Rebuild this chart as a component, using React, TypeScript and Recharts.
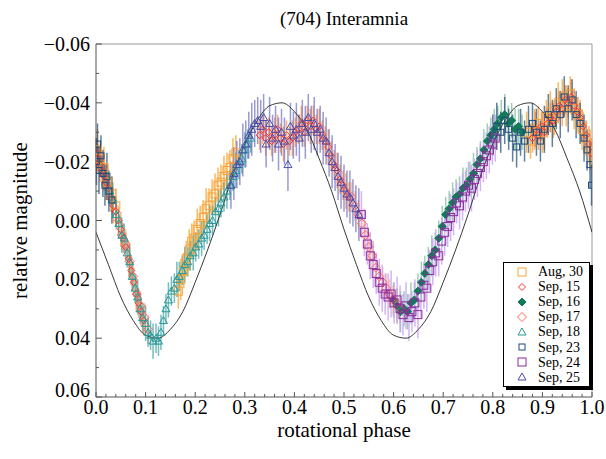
import React from "react";
import {
  ComposedChart,
  ErrorBar,
  Line,
  ReferenceLine,
  Scatter,
  XAxis,
  YAxis,
} from "recharts";

const FONT = "'Liberation Serif', 'Times New Roman', serif";

// rows are [phase, relative magnitude, error]
const aug30 = [
  [0.003, -0.024, 0.007], [0.009, -0.021, 0.006], [0.016, -0.018, 0.007], [0.024, -0.013, 0.006],
  [0.032, -0.009, 0.006], [0.040, -0.005, 0.006],
  [0.166, 0.024, 0.006], [0.171, 0.020, 0.007], [0.177, 0.017, 0.006], [0.182, 0.013, 0.006],
  [0.188, 0.010, 0.007], [0.193, 0.007, 0.006], [0.198, 0.006, 0.006], [0.204, 0.003, 0.007],
  [0.210, 0.001, 0.006], [0.216, -0.001, 0.006], [0.222, -0.004, 0.007], [0.228, -0.005, 0.006],
  [0.234, -0.008, 0.006], [0.240, -0.009, 0.007], [0.246, -0.012, 0.006], [0.252, -0.013, 0.006],
  [0.258, -0.015, 0.007], [0.264, -0.017, 0.006], [0.270, -0.018, 0.006], [0.276, -0.021, 0.007],
  [0.282, -0.023, 0.006],
  [0.868, -0.030, 0.007], [0.876, -0.027, 0.006], [0.884, -0.031, 0.007], [0.892, -0.033, 0.006],
  [0.900, -0.030, 0.007], [0.908, -0.035, 0.006], [0.916, -0.037, 0.007], [0.924, -0.035, 0.006],
  [0.932, -0.040, 0.007], [0.940, -0.042, 0.006], [0.948, -0.039, 0.007], [0.956, -0.043, 0.006],
  [0.964, -0.038, 0.007], [0.972, -0.036, 0.006], [0.980, -0.031, 0.007], [0.988, -0.028, 0.006],
  [0.996, -0.024, 0.007],
];

const sep15 = [
  [0.000, -0.023, 0.005], [0.004, -0.021, 0.005], [0.008, -0.019, 0.006], [0.012, -0.017, 0.005],
  [0.016, -0.015, 0.005], [0.020, -0.013, 0.006], [0.025, -0.011, 0.005], [0.030, -0.008, 0.005],
  [0.035, -0.005, 0.006], [0.040, -0.003, 0.005], [0.045, 0.000, 0.005], [0.050, 0.003, 0.006],
  [0.055, 0.006, 0.005], [0.060, 0.009, 0.005], [0.066, 0.013, 0.006], [0.071, 0.017, 0.005],
  [0.076, 0.021, 0.005], [0.081, 0.025, 0.006], [0.086, 0.028, 0.005], [0.091, 0.031, 0.005],
  [0.096, 0.034, 0.005],
  [0.330, -0.029, 0.005], [0.336, -0.031, 0.005], [0.342, -0.028, 0.006], [0.348, -0.030, 0.005],
  [0.354, -0.027, 0.005], [0.360, -0.029, 0.006], [0.366, -0.031, 0.005], [0.372, -0.028, 0.005],
  [0.378, -0.026, 0.006], [0.384, -0.029, 0.005], [0.390, -0.027, 0.005], [0.396, -0.028, 0.006],
  [0.402, -0.030, 0.005], [0.408, -0.031, 0.005], [0.414, -0.033, 0.006], [0.420, -0.030, 0.005],
  [0.426, -0.034, 0.005], [0.432, -0.032, 0.006], [0.438, -0.034, 0.005], [0.444, -0.031, 0.005],
  [0.450, -0.032, 0.006], [0.456, -0.029, 0.005], [0.462, -0.027, 0.005], [0.468, -0.025, 0.006],
  [0.474, -0.022, 0.005], [0.480, -0.019, 0.005], [0.486, -0.017, 0.006], [0.492, -0.014, 0.005],
  [0.498, -0.012, 0.005], [0.504, -0.010, 0.006], [0.510, -0.008, 0.005],
  [0.880, -0.028, 0.005], [0.886, -0.031, 0.006], [0.892, -0.029, 0.005], [0.898, -0.032, 0.005],
  [0.904, -0.030, 0.006], [0.910, -0.033, 0.005], [0.916, -0.035, 0.005], [0.922, -0.034, 0.006],
  [0.928, -0.037, 0.005], [0.934, -0.039, 0.005], [0.940, -0.038, 0.006], [0.946, -0.041, 0.005],
  [0.952, -0.040, 0.005], [0.958, -0.042, 0.006], [0.964, -0.039, 0.005], [0.970, -0.037, 0.005],
  [0.976, -0.035, 0.006], [0.982, -0.032, 0.005], [0.988, -0.029, 0.005], [0.994, -0.026, 0.006],
  [0.999, -0.023, 0.005],
];

const sep16 = [
  [0.600, 0.027, 0.006], [0.607, 0.029, 0.006], [0.614, 0.031, 0.007], [0.621, 0.030, 0.006],
  [0.628, 0.031, 0.006], [0.635, 0.028, 0.007], [0.642, 0.027, 0.006], [0.649, 0.024, 0.006],
  [0.656, 0.021, 0.007], [0.663, 0.018, 0.006], [0.670, 0.015, 0.006], [0.677, 0.012, 0.007],
  [0.684, 0.010, 0.006], [0.691, 0.006, 0.006], [0.698, 0.002, 0.007], [0.705, -0.002, 0.006],
  [0.712, -0.004, 0.006], [0.719, -0.006, 0.007], [0.726, -0.008, 0.006], [0.733, -0.009, 0.006],
  [0.740, -0.011, 0.007], [0.747, -0.012, 0.006], [0.754, -0.014, 0.006], [0.761, -0.016, 0.007],
  [0.768, -0.019, 0.006], [0.775, -0.021, 0.006], [0.782, -0.024, 0.007], [0.789, -0.027, 0.006],
  [0.796, -0.029, 0.006], [0.803, -0.031, 0.007], [0.810, -0.033, 0.006], [0.817, -0.035, 0.006],
  [0.824, -0.036, 0.007], [0.831, -0.033, 0.006], [0.838, -0.034, 0.006], [0.845, -0.031, 0.007],
  [0.852, -0.032, 0.006], [0.859, -0.030, 0.006],
];

const sep17 = [
  [0.052, 0.005, 0.005], [0.060, 0.008, 0.005], [0.068, 0.014, 0.005], [0.075, 0.019, 0.005],
  [0.082, 0.025, 0.005], [0.090, 0.029, 0.005], [0.098, 0.033, 0.005], [0.105, 0.037, 0.005],
  [0.515, -0.008, 0.005], [0.522, -0.005, 0.005], [0.529, -0.002, 0.005], [0.536, 0.001, 0.005],
  [0.543, 0.005, 0.005], [0.550, 0.009, 0.005], [0.557, 0.012, 0.005], [0.564, 0.016, 0.005],
  [0.571, 0.019, 0.005], [0.578, 0.021, 0.005], [0.585, 0.023, 0.005], [0.592, 0.025, 0.005],
  [0.599, 0.027, 0.005], [0.606, 0.028, 0.005], [0.613, 0.030, 0.005],
];

const sep18 = [
  [0.028, -0.010, 0.005], [0.034, -0.007, 0.006], [0.041, -0.002, 0.005], [0.046, 0.001, 0.005],
  [0.052, 0.005, 0.006], [0.057, 0.006, 0.005], [0.063, 0.011, 0.005], [0.068, 0.014, 0.006],
  [0.073, 0.019, 0.005], [0.079, 0.023, 0.005], [0.084, 0.026, 0.006], [0.089, 0.030, 0.005],
  [0.094, 0.033, 0.005], [0.100, 0.035, 0.006], [0.105, 0.038, 0.005], [0.110, 0.039, 0.005],
  [0.115, 0.041, 0.006], [0.121, 0.040, 0.005], [0.126, 0.041, 0.005], [0.131, 0.038, 0.006],
  [0.136, 0.034, 0.005], [0.141, 0.030, 0.005], [0.146, 0.027, 0.006], [0.152, 0.024, 0.005],
  [0.158, 0.023, 0.005], [0.163, 0.020, 0.006], [0.168, 0.019, 0.005], [0.174, 0.017, 0.005],
  [0.179, 0.015, 0.006], [0.185, 0.014, 0.005], [0.190, 0.012, 0.005], [0.196, 0.011, 0.006],
  [0.201, 0.009, 0.005], [0.207, 0.008, 0.005], [0.213, 0.006, 0.006], [0.218, 0.005, 0.005],
  [0.224, 0.003, 0.005], [0.229, 0.001, 0.006], [0.235, 0.000, 0.005], [0.241, -0.003, 0.005],
  [0.247, -0.004, 0.006], [0.252, -0.006, 0.005], [0.258, -0.008, 0.005], [0.264, -0.010, 0.006],
  [0.270, -0.012, 0.005], [0.276, -0.015, 0.005], [0.282, -0.017, 0.006], [0.288, -0.019, 0.005],
  [0.294, -0.021, 0.005], [0.300, -0.024, 0.006], [0.306, -0.026, 0.005], [0.312, -0.028, 0.005],
];

const sep23 = [
  [0.001, -0.020, 0.008], [0.003, -0.026, 0.007], [0.006, -0.017, 0.008], [0.010, -0.022, 0.007],
  [0.014, -0.016, 0.008], [0.018, -0.012, 0.007], [0.022, -0.015, 0.008], [0.026, -0.010, 0.007],
  [0.032, -0.007, 0.008],
  [0.800, -0.029, 0.007], [0.808, -0.032, 0.008], [0.816, -0.030, 0.007], [0.824, -0.034, 0.008],
  [0.832, -0.031, 0.007], [0.840, -0.028, 0.008], [0.848, -0.025, 0.007], [0.856, -0.030, 0.008],
  [0.864, -0.027, 0.007], [0.872, -0.031, 0.008], [0.880, -0.033, 0.007], [0.888, -0.030, 0.008],
  [0.896, -0.027, 0.007], [0.904, -0.031, 0.008], [0.912, -0.036, 0.007], [0.920, -0.033, 0.008],
  [0.928, -0.038, 0.007], [0.936, -0.036, 0.008], [0.944, -0.042, 0.007], [0.952, -0.038, 0.008],
  [0.960, -0.041, 0.007], [0.968, -0.036, 0.008], [0.976, -0.033, 0.007], [0.984, -0.028, 0.008],
  [0.990, -0.024, 0.007], [0.996, -0.019, 0.008], [0.999, -0.012, 0.007],
];

const sep24 = [
  [0.535, -0.002, 0.008], [0.541, 0.004, 0.008], [0.547, 0.008, 0.007], [0.553, 0.012, 0.008],
  [0.559, 0.015, 0.008], [0.565, 0.018, 0.007], [0.571, 0.021, 0.008], [0.577, 0.023, 0.008],
  [0.583, 0.025, 0.007], [0.589, 0.026, 0.008], [0.595, 0.025, 0.008], [0.601, 0.028, 0.007],
  [0.607, 0.027, 0.008], [0.613, 0.030, 0.008], [0.619, 0.032, 0.007], [0.625, 0.029, 0.008],
  [0.631, 0.033, 0.008], [0.637, 0.031, 0.007], [0.643, 0.028, 0.008], [0.649, 0.032, 0.008],
  [0.655, 0.026, 0.007], [0.661, 0.022, 0.008], [0.667, 0.023, 0.008], [0.673, 0.017, 0.007],
  [0.679, 0.014, 0.008], [0.685, 0.011, 0.008], [0.691, 0.012, 0.007], [0.697, 0.007, 0.008],
  [0.703, 0.004, 0.008], [0.709, 0.002, 0.007], [0.715, -0.001, 0.008], [0.721, -0.003, 0.008],
  [0.727, -0.006, 0.007], [0.733, -0.005, 0.008], [0.739, -0.008, 0.008], [0.745, -0.010, 0.007],
  [0.751, -0.012, 0.008], [0.757, -0.011, 0.008], [0.763, -0.014, 0.007], [0.769, -0.016, 0.008],
  [0.775, -0.018, 0.008], [0.781, -0.020, 0.007], [0.787, -0.022, 0.008], [0.793, -0.024, 0.008],
  [0.799, -0.026, 0.007], [0.805, -0.028, 0.008],
];

const sep25 = [
  [0.272, -0.012, 0.008], [0.278, -0.016, 0.009], [0.284, -0.019, 0.008], [0.290, -0.020, 0.008],
  [0.296, -0.024, 0.009], [0.302, -0.026, 0.008], [0.308, -0.029, 0.008], [0.314, -0.031, 0.009],
  [0.320, -0.033, 0.008], [0.326, -0.034, 0.008], [0.332, -0.032, 0.009], [0.338, -0.035, 0.008],
  [0.343, -0.026, 0.008], [0.350, -0.033, 0.009], [0.356, -0.028, 0.008], [0.362, -0.031, 0.008],
  [0.368, -0.026, 0.009], [0.374, -0.030, 0.008], [0.380, -0.027, 0.008], [0.387, -0.019, 0.009],
  [0.392, -0.032, 0.008], [0.398, -0.029, 0.008], [0.404, -0.031, 0.009], [0.410, -0.028, 0.008],
  [0.416, -0.033, 0.008], [0.422, -0.030, 0.009], [0.428, -0.035, 0.008], [0.434, -0.031, 0.008],
  [0.440, -0.033, 0.009], [0.446, -0.030, 0.008], [0.452, -0.031, 0.008], [0.458, -0.028, 0.009],
  [0.464, -0.027, 0.008], [0.470, -0.023, 0.008], [0.476, -0.020, 0.009], [0.482, -0.018, 0.008],
  [0.488, -0.015, 0.008], [0.494, -0.013, 0.009], [0.500, -0.011, 0.008], [0.506, -0.009, 0.008],
  [0.512, -0.008, 0.009], [0.518, -0.006, 0.008], [0.524, -0.004, 0.008], [0.530, -0.002, 0.009],
];

// fitted model curve
const model = [
  [0.0, 0.004], [0.025, 0.015], [0.05, 0.026], [0.075, 0.034], [0.1, 0.039], [0.125, 0.04],
  [0.15, 0.037], [0.175, 0.031], [0.2, 0.021], [0.225, 0.01], [0.25, -0.002], [0.275, -0.015],
  [0.3, -0.026], [0.325, -0.034], [0.35, -0.039], [0.375, -0.04], [0.4, -0.037], [0.425, -0.031],
  [0.45, -0.021], [0.475, -0.01], [0.5, 0.003], [0.525, 0.015], [0.55, 0.026], [0.575, 0.034],
  [0.6, 0.039], [0.625, 0.04], [0.65, 0.037], [0.675, 0.031], [0.7, 0.021], [0.725, 0.01],
  [0.75, -0.002], [0.775, -0.015], [0.8, -0.026], [0.825, -0.034], [0.85, -0.039], [0.875, -0.04],
  [0.9, -0.037], [0.925, -0.031], [0.95, -0.021], [0.975, -0.01], [1.0, 0.004],
];

const xTicks = [
  0, 0.02, 0.04, 0.06, 0.08, 0.1, 0.12, 0.14, 0.16, 0.18, 0.2, 0.22, 0.24, 0.26, 0.28, 0.3,
  0.32, 0.34, 0.36, 0.38, 0.4, 0.42, 0.44, 0.46, 0.48, 0.5, 0.52, 0.54, 0.56, 0.58, 0.6,
  0.62, 0.64, 0.66, 0.68, 0.7, 0.72, 0.74, 0.76, 0.78, 0.8, 0.82, 0.84, 0.86, 0.88, 0.9,
  0.92, 0.94, 0.96, 0.98, 1.0,
];
const yTicks = [
  -0.06, -0.05, -0.04, -0.03, -0.02, -0.01, 0, 0.01, 0.02, 0.03, 0.04, 0.05, 0.06,
];

const nights = [
  { name: "Aug, 30", rows: aug30, kind: "square", size: 8, color: "#f5a23c", bar: "#ff9a10", barOpacity: 0.7 },
  { name: "Sep, 15", rows: sep15, kind: "diamond", size: 7, color: "#ff3030", bar: "#ff7a20", barOpacity: 0.6 },
  { name: "Sep, 16", rows: sep16, kind: "filledDiamond", size: 8, color: "#117a58", bar: "#5fae86", barOpacity: 0.6 },
  { name: "Sep, 17", rows: sep17, kind: "diamond", size: 9, color: "#ff6a5c", bar: "#ff8a5a", barOpacity: 0.5 },
  { name: "Sep, 18", rows: sep18, kind: "triangle", size: 8, color: "#27999a", bar: "#1c908f", barOpacity: 0.6 },
  { name: "Sep, 23", rows: sep23, kind: "square", size: 6, color: "#204c7a", bar: "#1d4a78", barOpacity: 0.7 },
  { name: "Sep, 24", rows: sep24, kind: "square", size: 8, color: "#8d2a9c", bar: "#c7a0f4", barOpacity: 0.8 },
  { name: "Sep, 25", rows: sep25, kind: "triangle", size: 8, color: "#4a4aa8", bar: "#5555b5", barOpacity: 0.6 },
];

function Glyph({ kind, cx, cy, size, color }: any) {
  const h = size / 2;
  if (kind === "square") {
    return <rect x={cx - h} y={cy - h} width={size} height={size} fill="none" stroke={color} strokeWidth={1} />;
  }
  if (kind === "diamond" || kind === "filledDiamond") {
    return (
      <polygon
        points={`${cx},${cy - h} ${cx + h},${cy} ${cx},${cy + h} ${cx - h},${cy}`}
        fill={kind === "filledDiamond" ? color : "none"}
        stroke={color}
        strokeWidth={1}
      />
    );
  }
  return (
    <polygon
      points={`${cx},${cy - h} ${cx + h},${cy + h * 0.75} ${cx - h},${cy + h * 0.75}`}
      fill="none"
      stroke={color}
      strokeWidth={1}
    />
  );
}

function XTick({ x, y, payload }: any) {
  const v = payload.value;
  const major = Math.abs(v * 10 - Math.round(v * 10)) < 1e-6;
  return (
    <g>
      <line x1={x} x2={x} y1={y} y2={y - (major ? 5 : 3)} stroke="#555" />
      {major && (
        <text x={x} y={y + 17} textAnchor="middle" fontSize={20} fontFamily={FONT} fill="#000">
          {v.toFixed(1)}
        </text>
      )}
    </g>
  );
}

function YTick({ x, y, payload }: any) {
  const v = payload.value;
  const major = Math.round(v * 100) % 2 === 0;
  const label = (v < 0 ? "\u2212" : "") + Math.abs(v).toFixed(2);
  // the lowest label sits a little above its tick, clear of the x labels
  const lift = v >= 0.06 ? 7 : 0;
  return (
    <g>
      <line x1={x} x2={x + (major ? 6 : 3)} y1={y} y2={y} stroke="#555" />
      {major && (
        <text x={x - 6} y={y + 7 - lift} textAnchor="end" fontSize={20} fontFamily={FONT} fill="#000">
          {label}
        </text>
      )}
    </g>
  );
}

const toPoints = (rows: number[][]) => rows.map(([x, y, e]) => ({ x, y, e }));
const modelPoints = model.map(([x, y]) => ({ x, y }));

export default function App() {
  return (
    <div style={{ position: "absolute", left: 0, top: 0, width: 606, height: 459, background: "#fff" }}>
      <div
        style={{
          position: "absolute",
          left: 96,
          width: 496,
          top: 8,
          textAlign: "center",
          fontFamily: FONT,
          fontSize: 19,
          lineHeight: "21px",
        }}
      >
        (704) Interamnia
      </div>
      <ComposedChart width={606} height={459} margin={{ top: 44, right: 14, bottom: 0, left: 0 }}>
        <XAxis
          dataKey="x"
          type="number"
          domain={[0, 1]}
          ticks={xTicks}
          interval={0}
          allowDataOverflow
          height={62}
          tickSize={0}
          tickMargin={0}
          tickLine={false}
          tick={(p: any) => <XTick {...p} />}
          axisLine={{ stroke: "#555" }}
          label={{
            value: "rotational phase",
            position: "insideBottom",
            offset: 22,
            style: { fontFamily: FONT, fontSize: 21, fill: "#000" },
          }}
        />
        <YAxis
          type="number"
          domain={[-0.06, 0.06]}
          reversed
          ticks={yTicks}
          interval={0}
          allowDataOverflow
          width={96}
          tickSize={0}
          tickMargin={0}
          tickLine={false}
          tick={(p: any) => <YTick {...p} />}
          axisLine={{ stroke: "#555" }}
          label={{
            value: "relative magnitude",
            angle: -90,
            position: "insideLeft",
            offset: 20,
            style: { fontFamily: FONT, fontSize: 21, fill: "#000", textAnchor: "middle" },
          }}
        />
        <ReferenceLine y={-0.06} stroke="#999" />
        <ReferenceLine x={1} stroke="#999" />
        {nights.map((n) => (
          <Scatter
            key={n.name}
            name={n.name}
            data={toPoints(n.rows)}
            dataKey="y"
            isAnimationActive={false}
            shape={(p: any) => <Glyph kind={n.kind} cx={p.cx} cy={p.cy} size={n.size} color={n.color} />}
          >
            <ErrorBar
              dataKey="e"
              direction="y"
              width={0}
              stroke={n.bar}
              strokeOpacity={n.barOpacity}
              strokeWidth={1.5}
              isAnimationActive={false}
            />
          </Scatter>
        ))}
        <Line
          data={modelPoints}
          dataKey="y"
          type="monotone"
          stroke="#222"
          strokeWidth={0.9}
          dot={false}
          activeDot={false}
          isAnimationActive={false}
        />
      </ComposedChart>
      <div
        style={{
          position: "absolute",
          left: 503,
          top: 262,
          width: 85,
          height: 122,
          border: "1px solid #000",
          boxShadow: "3px 3px 0 #000",
          background: "#fff",
          paddingTop: 1,
          boxSizing: "content-box",
          fontFamily: FONT,
          fontSize: 14,
        }}
      >
        {nights.map((n) => (
          <div key={n.name} style={{ display: "flex", alignItems: "center", height: 15.1, lineHeight: "15px" }}>
            <svg width={12} height={12} style={{ marginLeft: 12, marginRight: 10 }}>
              <Glyph kind={n.kind} cx={6} cy={6} size={n.size} color={n.color} />
            </svg>
            <span>{n.name}</span>
          </div>
        ))}
      </div>
    </div>
  );
}
